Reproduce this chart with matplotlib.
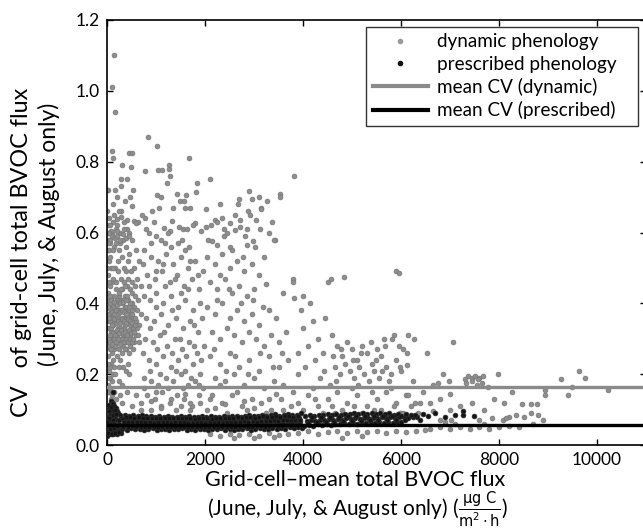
import numpy as np
import matplotlib
matplotlib.use("Agg")
import matplotlib.pyplot as plt
from matplotlib.lines import Line2D

plt.rcParams['font.family'] = ['Lato', 'DejaVu Sans']
plt.rcParams['mathtext.fontset'] = 'dejavusans'

# dynamic phenology: (mean flux, CV)
dyn_left = [
    (20,.72),(40,.64),(30,.60),(60,.57),(20,.55),(50,.52),(80,.50),(30,.48),(60,.45),(20,.43),
    (90,.41),(40,.39),(70,.37),(20,.35),(50,.33),(80,.31),(30,.29),(60,.27),(20,.25),(90,.23),
    (40,.21),(70,.19),(20,.17),(50,.15),(80,.13),(30,.11),(100,.60),(110,.30),(100,.46),(120,.20),
    (143,1.10),(100,1.01),(160,.94),(100,.83),(120,.81),(450,.825),(510,.825),(300,.79),(490,.785),
    (280,.75),(410,.75),(0,.72),(160,.72),(200,.70),(280,.73),(530,.72),(470,.70),(120,.68),(510,.675),
    (280,.643),(200,.637),(120,.63),(410,.636),(410,.61),(630,.63),(550,.633),(590,.627),
    (150,.65),(200,.62),(260,.60),(320,.58),(180,.57),(240,.55),(300,.53),(380,.56),(420,.52),
    (160,.50),(220,.49),(280,.47),(340,.46),(400,.45),(460,.44),(520,.43),(580,.42),(640,.41),
    (180,.44),(240,.42),(300,.40),(360,.39),(420,.38),(480,.37),(540,.36),(600,.35),(660,.34),
    (160,.38),(220,.36),(280,.35),(340,.33),(400,.32),(460,.31),(520,.30),(200,.31),(260,.30),
    (320,.28),(380,.27),(440,.26),(150,.27),(210,.25),(270,.24),(330,.22),(390,.21),(450,.20),
    (170,.20),(240,.18),(310,.17),(140,.15),(190,.13),(260,.14),(500,.40),(560,.39),(620,.38),
    (480,.34),(540,.33),(600,.31),(650,.29),(700,.45),(700,.37),(130,.47),(130,.34),(140,.42),
    (150,.56),(350,.63),(450,.60),(520,.58),(600,.55),(660,.52),(550,.50),(480,.49),(620,.47),
    (250,.43),(310,.44),(370,.42),(430,.41),(290,.38),(350,.36),(410,.35),(470,.34),(230,.33),
    (290,.32),(350,.30),(410,.29),(470,.28),(530,.27),(370,.45),(430,.47),(270,.41),(330,.41),
    (390,.39),(450,.38),(510,.37),(570,.45),(60,.40),(90,.35),(40,.30),(110,.26),(70,.22),(100,.18),
]
dyn_left_dense = [
    (10,.66),(30,.62),(15,.58),(45,.55),(10,.50),(35,.46),(15,.41),(45,.37),(10,.33),(35,.28),
    (15,.23),(45,.19),(10,.15),(60,.62),(70,.53),(60,.42),(75,.33),(85,.27),(65,.16),(95,.14),
    (120,.55),(125,.50),(115,.39),(120,.36),(130,.29),(115,.24),(140,.22),(125,.12),(160,.32),
    (190,.46),(210,.41),(230,.38),(190,.35),(210,.29),(240,.27),(260,.33),(300,.36),(320,.31),
    (260,.38),(280,.44),(330,.38),(360,.34),(380,.31),(300,.26),(250,.22),(190,.40),(170,.28),
    (400,.42),(440,.36),(360,.27),(420,.23),(500,.32),(560,.29),(620,.33),(580,.36),(500,.46),
    (220,.52),(260,.57),(340,.50),(380,.49),(440,.54),(290,.66),(180,.61),(240,.66),(360,.69),
    (60,.29),(100,.285),(140,.30),(180,.29),(220,.30),(260,.285),(300,.30),(340,.29),(380,.30),
    (420,.29),(460,.30),(500,.29),(540,.30),(80,.32),(120,.315),(160,.31),(200,.325),(240,.315),
    (280,.325),(320,.315),(360,.32),(400,.31),(440,.325),(480,.315),(560,.32),(640,.31),(60,.35),
    (100,.34),(140,.355),(180,.345),(220,.35),(260,.345),(300,.355),(340,.35),(380,.345),(420,.355),
    (460,.35),(520,.345),(580,.34),(70,.385),(110,.375),(150,.37),(190,.38),(230,.37),(270,.375),
    (310,.38),(350,.375),(390,.37),(440,.39),(500,.38),(90,.41),(150,.405),(210,.395),(270,.40),
    (330,.405),(390,.41),(460,.40),(60,.58),(110,.59),(160,.585),(210,.59),(260,.58),(320,.595),
    (380,.585),(440,.59),(90,.605),(200,.605),(340,.61),(30,.57),(40,.60),(70,.31),(50,.36),(30,.39),
]
dyn_mid = [
    (780,.775),(830,.87),(1020,.845),(1040,.777),(1120,.777),(1270,.79),(1270,.78),(1290,.76),
    (1230,.74),(1670,.81),(1840,.74),(1020,.705),(1100,.70),(1430,.71),(1610,.705),(1820,.715),
    (1490,.69),(1570,.69),(1350,.67),(1060,.67),(1590,.67),(1690,.67),(780,.64),(920,.66),(710,.65),
    (800,.61),(1160,.613),(1290,.605),(1330,.633),(1470,.615),(1550,.61),(1630,.61),(1800,.626),
    (1920,.605),(1000,.59),(1180,.57),(1530,.58),(1670,.56),
    (760,.55),(900,.53),(1050,.52),(1200,.54),(1350,.51),(1500,.53),(1650,.50),(1800,.52),(1950,.49),
    (820,.48),(970,.47),(1120,.49),(1280,.46),(1430,.48),(1580,.45),(1730,.47),(1880,.44),(750,.42),
    (880,.41),(1010,.43),(1150,.40),(1300,.42),(1450,.39),(1600,.41),(1750,.38),(1900,.40),(800,.36),
    (950,.35),(1100,.37),(1250,.34),(1400,.36),(1550,.33),(1700,.35),(1850,.32),(780,.30),(930,.29),
    (1080,.31),(1230,.28),(1380,.30),(1530,.27),(1680,.29),(1830,.26),(1980,.28),(850,.24),(1000,.23),
    (1150,.25),(1300,.22),(1450,.24),(1600,.21),(1750,.23),(1900,.20),(760,.19),(900,.18),(1050,.17),
    (1200,.19),(1350,.18),(1500,.20),(1650,.17),(1800,.18),(1950,.16),(820,.14),(980,.13),(1130,.15),
    (1280,.12),(1430,.14),(1580,.13),(1730,.11),(1880,.14),(700,.12),(900,.10),(1100,.11),(1400,.10),
    (1700,.12),(1300,.56),(1600,.55),(1100,.58),(900,.57),
    (300,.12),(500,.11),(700,.10),(900,.125),(1100,.105),(1300,.13),(1500,.11),(1700,.10),(1900,.12),
    (400,.15),(600,.14),(1000,.15),(1600,.145),
    (730,.51),(860,.45),(990,.39),(1180,.45),(1330,.38),(1510,.43),(1660,.44),(1780,.34),(1930,.36),
    (870,.33),(1020,.27),(1170,.32),(1320,.26),(1480,.30),(1620,.25),(1770,.28),(1920,.24),(730,.26),
    (880,.21),(1080,.20),(1240,.16),(1400,.21),(1560,.16),(1720,.19),(1870,.17),(760,.16),(1000,.49),
    (1150,.51),(1380,.47),(1700,.52),(1850,.48),(1250,.60),(1450,.57),(850,.60),(950,.63),(1750,.62),
]
dyn_right = [
    (2020,.667),(2100,.75),(2300,.68),(2350,.64),(2200,.636),(2240,.63),(2390,.61),(2510,.627),
    (2610,.607),(2610,.65),(2710,.636),(2710,.615),(2690,.695),(2670,.68),(2880,.66),(2920,.65),
    (2860,.61),(2900,.717),(2960,.695),(3040,.636),(3100,.70),(3120,.61),(3140,.67),(3140,.665),
    (3260,.69),(3300,.60),(3370,.63),(3430,.58),(3530,.71),(3530,.70),(3820,.76),(2070,.58),
    (2140,.575),(2240,.565),(2390,.59),(2510,.56),(2850,.565),(2980,.575),(3400,.58),(3200,.53),
    (2120,.62),(2020,.615),
    (2050,.53),(2200,.51),(2350,.54),(2500,.50),(2650,.52),(2800,.49),(2950,.51),(3100,.48),(2100,.46),
    (2250,.44),(2400,.47),(2550,.43),(2700,.45),(2850,.42),(3000,.44),(3240,.455),(3800,.47),(3800,.46),
    (3590,.43),(3820,.415),(4000,.42),(2050,.39),(2200,.37),(2350,.40),(2500,.36),(2650,.38),(2800,.35),
    (2950,.37),(3100,.34),(3300,.38),(3450,.36),(2150,.32),(2300,.30),(2450,.33),(2600,.31),(2750,.29),
    (2900,.32),(3050,.30),(3200,.28),(3350,.31),(3500,.29),(3650,.32),
    (2100,.25),(2300,.23),(2500,.26),(2700,.22),(2900,.24),(3100,.21),(3300,.25),(3500,.22),(3700,.24),
    (3900,.20),(2200,.19),(2400,.18),(2600,.20),(2800,.17),(3000,.19),(3200,.16),(3400,.18),(3600,.17),
    (3800,.15),(2150,.14),(2350,.12),(2550,.14),(2750,.11),(2950,.13),(3150,.12),(3350,.10),(3550,.13),
    (3750,.11),(2050,.10),(2450,.09),(2850,.10),(3250,.09),(3650,.085),(3450,.145),(2650,.15),(2300,.17),
    (2100,.13),(2200,.105),(2400,.115),(2800,.125),(3000,.105),(3300,.13),(3600,.10),
    (2100,.03),(2300,.025),(2500,.032),(2700,.028),(2900,.03),(3100,.025),(3300,.033),(3500,.027),
    (3700,.03),(2600,.02),(3000,.02),(3400,.022),
    (2180,.27),(2420,.21),(2620,.25),(2880,.20),(3120,.26),(3380,.22),(3580,.26),(2250,.41),(2480,.44),
    (2730,.40),(2980,.41),(3180,.39),(2300,.48),(2560,.55),(2780,.53),(3020,.56),(2450,.60),(2820,.59),
]
dyn_far = [
    (4000,.33),(4200,.35),(4300,.30),(4100,.28),(4400,.26),(4600,.31),(4700,.28),(4800,.25),(4900,.29),
    (5000,.27),(5100,.24),(5200,.28),(5300,.26),(5400,.23),(5500,.27),(5600,.25),(4650,.22),(4750,.20),
    (4850,.23),(4950,.21),(5050,.19),(5150,.22),(5250,.20),(5350,.18),(5450,.21),(5550,.19),(5700,.22),
    (5800,.20),(5900,.24),(6000,.21),(5650,.30),(5850,.31),(6150,.31),(5950,.28),(6050,.27),(4500,.46),
    (4570,.47),(4840,.475),(5900,.49),(5950,.485),(3950,.38),(4150,.40),(4450,.36),(4250,.24),(4050,.22),
    (4350,.19),(4550,.17),(3900,.26),
    (3900,.12),(4100,.14),(4300,.11),(4500,.13),(4700,.15),(4900,.12),(5100,.14),(5300,.11),(5500,.13),
    (5700,.15),(5900,.12),(6100,.14),(4000,.10),(4400,.09),(4800,.10),(5200,.09),(5600,.10),(6000,.09),
    (4200,.16),(4600,.11),(5000,.16),(5400,.15),(5800,.16),(6200,.11),
    (3900,.035),(4100,.04),(4300,.032),(4500,.038),(4700,.04),(4900,.035),(5100,.04),(5300,.036),
    (5500,.04),(5700,.033),(5900,.04),(6100,.037),(6300,.04),(6500,.042),(4800,.02),(5200,.025),
    (6270,.30),(6530,.26),(7060,.29),(6120,.26),(5810,.30),(5670,.28),(6120,.225),(5980,.22),
    (6750,.175),(6860,.20),(6970,.18),(6650,.17),(7360,.195),(7440,.19),(7520,.195),(7600,.19),
    (7670,.195),(7310,.185),(7450,.18),(7570,.185),(7330,.175),(7560,.17),(7650,.175),(7980,.20),
    (7770,.165),(8260,.15),(8100,.12),(8470,.115),(8650,.117),(8770,.117),(8940,.155),(8940,.14),
    (9260,.185),(9400,.14),(9480,.165),(9630,.21),(9750,.19),(10220,.155),
    (8200,.08),(8350,.085),(8500,.08),(8650,.09),(8800,.085),(8080,.07),(8150,.075),
    (6150,.14),(6280,.12),(6380,.12),(6600,.12),(6800,.13),(7000,.10),(7200,.11),(7450,.12),(7700,.10),
    (7900,.13),(7000,.145),(6650,.095),(6350,.09),(5980,.09),(6050,.09),(7850,.075),(7600,.07),
    (6800,.07),(7030,.07),
    (6600,.045),(6800,.05),(7000,.045),(7200,.05),(7400,.045),(7600,.05),(7800,.045),(8000,.05),
    (8200,.055),(8400,.05),(8700,.06),(8900,.07),(7100,.06),(6900,.065),(7700,.06),
    (4620,.25),(4780,.27),(5020,.24),(5180,.26),(5380,.29),(5480,.24),(5620,.21),(4420,.21),(4680,.18),
    (5120,.17),(5750,.18),(6250,.18),(6450,.15),(4250,.13),(4650,.09),(5050,.11),(5450,.10),(5850,.11),
]

# prescribed phenology
presc_left = [
    (120,.15),(80,.124),(100,.12),(130,.115),(150,.11),(60,.105),(180,.105),(110,.10),(200,.095),
    (40,.095),(140,.09),(230,.09),(70,.085),(260,.085),(20,.08),(100,.08),(170,.08),(50,.07),(130,.07),
    (210,.07),(290,.075),(20,.06),(80,.06),(150,.06),(240,.06),(40,.05),(110,.05),(190,.05),(270,.05),
    (20,.04),(90,.04),(160,.04),(230,.04),(60,.03),(130,.03),(200,.03),(280,.035),(10,.025),
    (30,.112),(90,.108),(160,.098),(45,.075),(120,.085),(190,.088),(250,.072),(10,.065),(70,.045),
    (140,.048),(210,.055),(30,.035),(100,.03),(170,.034),(250,.038),
]
presc_band = [
    (310,.045),(400,.043),(490,.047),(575,.044),(665,.046),(750,.042),(840,.045),(930,.047),(1015,.043),
    (1100,.046),(1190,.044),(1275,.042),(1365,.046),(1450,.044),(1540,.047),(1625,.043),(1715,.045),
    (1800,.042),(1890,.046),(1975,.044),(2065,.043),(2150,.046),(2240,.044),(2325,.047),(2415,.043),
    (2500,.045),(2590,.042),(2675,.046),(2765,.044),(2850,.047),(2940,.043),(3025,.045),(3115,.048),
    (3200,.044),(3290,.046),(3375,.049),(3465,.045),(3550,.048),(3640,.046),(3725,.050),(3815,.047),
    (3900,.051),(3985,.049),
    (355,.058),(445,.060),(530,.056),(620,.059),(705,.057),(795,.061),(885,.058),(970,.056),(1060,.060),
    (1145,.057),(1235,.059),(1320,.056),(1410,.060),(1495,.058),(1585,.055),(1670,.059),(1760,.057),
    (1845,.060),(1935,.056),(2020,.058),(2110,.061),(2195,.057),(2285,.059),(2370,.056),(2460,.060),
    (2545,.058),(2635,.061),(2720,.057),(2810,.059),(2895,.062),(2985,.058),(3070,.060),(3160,.063),
    (3245,.059),(3335,.061),(3420,.064),(3510,.060),(3595,.063),(3685,.061),(3770,.064),(3860,.062),
    (3945,.065),
    (320,.074),(410,.071),(500,.073),(585,.070),(675,.072),(760,.069),(850,.071),(940,.068),(1025,.070),
    (1115,.072),(1200,.069),(1290,.071),(1375,.068),(1465,.070),(1550,.072),(1640,.069),(1725,.071),
    (1815,.068),(1900,.070),(1990,.072),(2075,.069),(2165,.071),(2250,.068),(2340,.070),(2425,.072),
    (2515,.069),(2600,.071),(2690,.073),(2775,.070),(2865,.072),(2950,.075),(3040,.071),(3125,.073),
    (3215,.076),(3300,.072),(3390,.074),(3475,.077),(3565,.073),(3650,.075),(3740,.078),(3825,.074),
    (3915,.076),
    (365,.086),(455,.083),(540,.085),(630,.082),(715,.084),(805,.081),(890,.083),(980,.080),(1070,.082),
    (1155,.079),(1245,.081),(1330,.078),(1420,.080),(1505,.082),(1595,.079),(1680,.081),(1770,.078),
    (1855,.080),(1945,.082),(2030,.079),(2120,.081),(2205,.078),(2295,.080),(2380,.082),(2470,.079),
    (2555,.081),(2645,.083),(2730,.080),(2820,.082),(2905,.085),(2995,.081),(3080,.083),(3170,.086),
    (3255,.082),(3345,.084),(3430,.087),(3520,.083),(3605,.085),(3695,.088),(3780,.084),(3870,.086),
    (3955,.089),
]
presc_band_fill = [
    (335,.052),(425,.051),(515,.053),(600,.050),(690,.052),(775,.051),(865,.052),(955,.050),(1040,.052),
    (1130,.051),(1215,.050),(1305,.052),(1390,.051),(1480,.050),(1565,.052),(1655,.051),(1740,.050),
    (1830,.052),(1915,.051),(2005,.050),(2090,.052),(2180,.051),(2265,.050),(2355,.052),(2440,.051),
    (2530,.050),(2615,.052),(2705,.051),(2790,.053),(2880,.052),(2965,.051),(3055,.053),(3140,.055),
    (3230,.052),(3315,.054),(3405,.056),(3490,.053),(3580,.055),(3665,.057),(3755,.055),(3840,.057),
    (3925,.058),
    (340,.066),(430,.065),(520,.064),(605,.065),(695,.064),(780,.066),(870,.065),(960,.063),(1045,.065),
    (1135,.064),(1220,.066),(1310,.063),(1395,.065),(1485,.064),(1570,.066),(1660,.063),(1745,.065),
    (1835,.064),(1920,.066),(2010,.063),(2095,.065),(2185,.064),(2270,.066),(2360,.063),(2445,.065),
    (2535,.064),(2620,.066),(2710,.065),(2795,.067),(2885,.066),(2970,.068),(3060,.066),(3145,.069),
    (3235,.067),(3320,.069),(3410,.071),(3495,.068),(3585,.070),(3670,.072),(3760,.070),(3845,.071),
    (3935,.072),
    (390,.078),(475,.079),(560,.077),(650,.078),(735,.077),(825,.076),(915,.077),(1000,.075),(1090,.077),
    (1175,.076),(1265,.075),(1350,.076),(1440,.075),(1525,.077),(1615,.075),(1700,.076),(1790,.074),
    (1875,.076),(1965,.075),(2050,.076),(2140,.074),(2225,.076),(2315,.075),(2400,.077),(2490,.075),
    (2575,.076),(2665,.078),(2750,.076),(2840,.078),(2925,.080),(3015,.077),(3100,.079),(3190,.081),
    (3275,.078),(3365,.080),(3450,.082),(3540,.079),(3625,.081),(3715,.083),(3800,.080),(3890,.082),
]
presc_right = [
    (4030,.054),(4120,.057),(4210,.055),(4300,.058),(4390,.056),(4480,.059),(4570,.057),(4660,.060),
    (4750,.058),(4840,.061),(4930,.059),(5020,.062),(5110,.060),(5200,.063),(5290,.061),(5380,.063),
    (5470,.062),(5560,.064),(5650,.062),(5740,.065),(5830,.063),(5920,.066),(6010,.064),
    (4075,.068),(4165,.071),(4255,.069),(4345,.072),(4435,.070),(4525,.073),(4615,.071),(4705,.074),
    (4795,.072),(4885,.075),(4975,.073),(5065,.076),(5155,.074),(5245,.077),(5335,.075),(5425,.077),
    (5515,.076),(5605,.078),(5695,.076),(5785,.079),(5875,.077),(5965,.080),(6055,.078),(6150,.077),
    (6240,.079),(6330,.078),
    (4050,.082),(4140,.085),(4230,.083),(4320,.086),(4410,.084),(4500,.087),(4590,.085),(4680,.088),
    (4770,.086),(4860,.088),(4950,.087),(5040,.089),(5130,.087),(5220,.089),(5310,.088),(5400,.090),
    (5490,.088),(5580,.090),(5670,.087),(5760,.089),(5850,.086),(5940,.088),(6100,.087),(6200,.086),
    (6450,.088),(6560,.082),(6690,.090),(6900,.080),(7100,.084),(7260,.096),(7260,.085),(7490,.082),
    (6380,.072),
    (4100,.062),(4280,.064),(4460,.065),(4640,.066),(4820,.067),(5000,.068),(5180,.069),(5360,.070),
    (5540,.070),(5720,.071),(5900,.072),(6080,.071),(4190,.078),(4370,.079),(4550,.080),(4730,.080),
    (4910,.081),(5090,.082),(5270,.082),(5450,.083),(5630,.083),(5810,.083),(5990,.083),(6280,.084),
]

mean_cv_dyn = 0.163
mean_cv_presc = 0.057

dyn = np.array(dyn_left + dyn_left_dense + dyn_mid + dyn_right + dyn_far)
presc = np.array(presc_left + presc_band + presc_band_fill + presc_right)

fig = plt.figure(figsize=(6.43, 5.31), dpi=100)
ax = fig.add_axes([107/643, 86/531, 539/643, 425/531])

ax.scatter(dyn[:, 0], dyn[:, 1], s=12, c='#8e8e8e', edgecolors='#777777', linewidths=0.5, zorder=2)
ax.scatter(presc[:, 0], presc[:, 1], s=12, c='#141414', edgecolors='#2e2e2e', linewidths=0.5, zorder=3)
ax.axhline(mean_cv_dyn, color='#8a8a8a', lw=2.4, zorder=4)
ax.axhline(mean_cv_presc, color='black', lw=2.4, zorder=4)

ax.set_xlim(0, 11000)
ax.set_ylim(0, 1.2)
ax.set_xticks([0, 2000, 4000, 6000, 8000, 10000])
ax.set_yticks(np.arange(0, 1.21, 0.2))
ax.set_yticklabels(['%.1f' % v for v in np.arange(0, 1.21, 0.2)])
ax.tick_params(direction='in', top=True, right=True, length=4, width=1, labelsize=12.5, pad=5)
for sp in ax.spines.values():
    sp.set_linewidth(1.2)

handles = [
    Line2D([], [], ls='none', marker='o', ms=3, color='#9a9a9a'),
    Line2D([], [], ls='none', marker='o', ms=3, color='#111111'),
    Line2D([], [], color='#8a8a8a', lw=3),
    Line2D([], [], color='black', lw=3),
]
# trailing spaces leave the wide right margin seen in the original box
labels = ['dynamic phenology   ', 'prescribed phenology   ', 'mean CV (dynamic)   ',
          'mean CV (prescribed)   ']
leg = ax.legend(handles, labels, loc='upper right', bbox_to_anchor=(0.985, 0.984),
                borderaxespad=0, fontsize=13.6, frameon=True, fancybox=False,
                handlelength=2.9, handletextpad=0.5, labelspacing=0.28, borderpad=0.35)
leg.get_frame().set_edgecolor('black')
leg.get_frame().set_linewidth(1)

fig.text(22/643, 1 - 88/531, 'CV   of grid-cell total BVOC flux', rotation=90,
         ha='center', va='top', fontsize=16.8)
fig.text(49/643, 1 - 103/531, '(June, July, & August only)', rotation=90,
         ha='center', va='top', fontsize=16.5)
fig.text(355/643, 1 - 486/531, 'Grid-cell\u2013mean total BVOC flux', ha='center', va='baseline',
         fontsize=15.5)
fig.text(358/643, 1 - 516/531,
         r'(June, July, & August only) ($\frac{\mathrm{\mu g\ C}}{\mathrm{m^2 \cdot h}}$)',
         ha='center', va='baseline', fontsize=15)

fig.savefig('out.png', dpi=100)
